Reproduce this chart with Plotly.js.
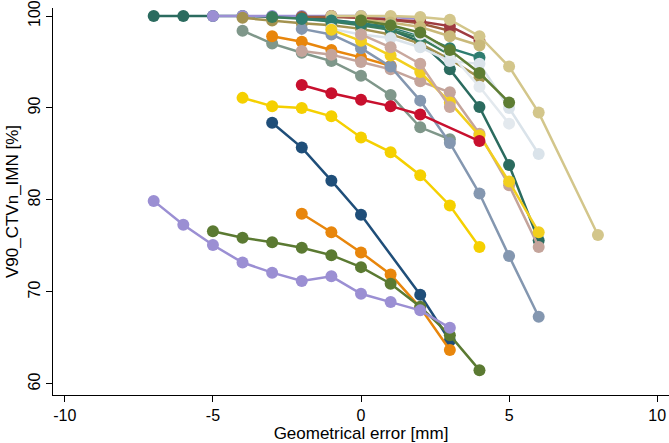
<!DOCTYPE html>
<html>
<head>
<meta charset="utf-8">
<script src="https://cdn.plot.ly/plotly-3.0.1.min.js"></script>
<style>
  html, body { margin: 0; padding: 0; background: #fff; }
  #chart { width: 669px; height: 443px; }
</style>
</head>
<body>
<div id="chart"></div>
<script>
// Geometrical error [mm] vs V90 of CTVn_IMN [%], one line per case

// upper cluster
const tealX = [-7, -6, -5, -4, -3, -2, -1, 0, 1, 2, 3, 4, 5, 6];
const tealY = [100, 100, 100, 100, 99.9, 99.8, 99.6, 99.2, 98.5, 97.2, 94.2, 90.1, 83.8, 75.6];

const lavTopX = [-5, -4, -3, -2, -1, 0, 1, 2];
const lavTopY = [100, 100, 100, 100, 100, 100, 99.9, 99.7];

const khakiOliveX = [-4, -3, -2, -1, 0, 1, 2, 3, 4];
const khakiOliveY = [99.8, 99.5, 99.2, 99.0, 98.6, 98.0, 97.0, 95.3, 93.3];

const sageX = [-4, -3, -2, -1, 0, 1, 2, 3];
const sageY = [98.4, 97.0, 96.0, 95.1, 93.5, 91.4, 87.9, 86.6];

const orangeTopX = [-3, -2, -1, 0, 1];
const orangeTopY = [97.8, 97.2, 96.3, 95.5, 94.6];

const tanPinkX = [-2, -1, 0, 1, 2, 3, 4, 5, 6];
const tanPinkY = [96.2, 95.8, 95.0, 94.2, 92.9, 91.7, 87.2, 81.6, 74.9];

const grayBlueX = [-2, -1, 0, 1, 2, 3, 4, 5, 6];
const grayBlueY = [98.6, 98.0, 96.5, 94.5, 90.8, 86.2, 80.7, 73.9, 67.3];

const brownX = [-2, -1, 0, 1, 2, 3];
const brownY = [99.9, 99.9, 99.8, 99.6, 99.2, 98.4];

const greenTealX = [-3, -2, -1, 0, 1, 2, 3];
const greenTealY = [99.9, 99.7, 99.4, 99.0, 98.5, 97.6, 95.8];

const maroonX = [-1, 0, 1, 2, 3, 4];
const maroonY = [100, 99.8, 99.6, 99.4, 98.9, 97.3];

const khakiX = [-1, 0, 1, 2, 3, 4, 5, 6, 8];
const khakiY = [100, 100, 100, 99.9, 99.6, 97.8, 94.5, 89.5, 76.2];

const khaki2X = [0, 1, 2, 3, 4];
const khaki2Y = [99.6, 99.3, 98.8, 97.8, 96.8];

const teal2X = [-2, -1, 0, 1, 2, 3, 4];
const teal2Y = [99.7, 99.5, 99.2, 98.8, 97.9, 96.5, 95.5];

const light1X = [-1, 0, 1, 2, 3, 4, 5, 6];
const light1Y = [98.6, 98.0, 97.6, 96.6, 95.1, 94.8, 90.0, 85.0];

const light2X = [1, 2, 3, 4, 5];
const light2Y = [99.0, 98.0, 96.0, 92.3, 88.3];

const oliveGreen2X = [0, 1, 2, 3, 4, 5];
const oliveGreen2Y = [99.5, 99.0, 98.2, 96.3, 93.8, 90.6];

const yellow2X = [-1, 0, 1, 2, 3, 4, 5, 6];
const yellow2Y = [98.5, 97.3, 95.7, 93.9, 90.6, 87.0, 82.0, 76.5];

const tanPink2X = [0, 1, 2, 3];
const tanPink2Y = [98.0, 96.6, 94.8, 90.1];

// lower lines
const crimsonX = [-2, -1, 0, 1, 2, 4];
const crimsonY = [92.5, 91.6, 90.9, 90.2, 89.3, 86.4];

const yellowX = [-4, -3, -2, -1, 0, 1, 2, 3, 4];
const yellowY = [91.1, 90.2, 90.0, 89.1, 86.8, 85.2, 82.7, 79.4, 74.9];

const navyX = [-3, -2, -1, 0, 2, 3];
const navyY = [88.4, 85.7, 82.1, 78.4, 69.7, 64.7];

const orangeX = [-2, -1, 0, 1, 2, 3];
const orangeY = [78.5, 76.5, 74.3, 71.9, 68.3, 63.7];

const oliveGreenX = [-5, -4, -3, -2, -1, 0, 1, 2, 3, 4];
const oliveGreenY = [76.6, 75.9, 75.4, 74.8, 74.0, 72.7, 70.9, 68.4, 65.3, 61.5];

const lavenderX = [-7, -6, -5, -4, -3, -2, -1, 0, 1, 2, 3];
const lavenderY = [79.9, 77.3, 75.1, 73.2, 72.1, 71.2, 71.7, 69.8, 68.9, 68.0, 66.1];

// axis ticks (plain hyphen like the original)
const xTicks = [-10, -5, 0, 5, 10];
const xTickText = ['-10', '-5', '0', '5', '10'];
const yTicks = [60, 70, 80, 90, 100];

const series = [
    [tealX, tealY, '#2b6b5f'],
    [lavTopX, lavTopY, '#9b8fd3'],
    [khakiOliveX, khakiOliveY, '#a3924f'],
    [sageX, sageY, '#7f978a'],
    [orangeTopX, orangeTopY, '#e8860c'],
    [tanPinkX, tanPinkY, '#c4a49b'],
    [grayBlueX, grayBlueY, '#8497b0'],
    [brownX, brownY, '#9c5b3a'],
    [greenTealX, greenTealY, '#3a7d5c'],
    [maroonX, maroonY, '#9e3b40'],
    [khakiX, khakiY, '#d3c68b'],
    [khaki2X, khaki2Y, '#c9b97a'],
    [teal2X, teal2Y, '#2e7d70'],
    [light1X, light1Y, '#dae3ea'],
    [light2X, light2Y, '#e3e9ee'],
    [oliveGreen2X, oliveGreen2Y, '#5e7d33'],
    [yellow2X, yellow2Y, '#f2cf1e'],
    [tanPink2X, tanPink2Y, '#c9a89e'],
    [crimsonX, crimsonY, '#c8102e'],
    [yellowX, yellowY, '#f5d000'],
    [navyX, navyY, '#1f4e79'],
    [orangeX, orangeY, '#e8860c'],
    [oliveGreenX, oliveGreenY, '#5b7a32'],
    [lavenderX, lavenderY, '#9b8fd3']
];

const data = series.map(s => ({
    x: s[0],
    y: s[1],
    type: 'scatter',
    mode: 'lines+markers',
    line: { color: s[2], width: 2.5 },
    marker: { color: s[2], size: 12 },
    showlegend: false,
    hoverinfo: 'x+y'
}));

const layout = {
    width: 669,
    height: 443,
    paper_bgcolor: '#fff',
    plot_bgcolor: '#fff',
    font: { family: 'Liberation Sans, Arial, sans-serif', color: '#000', size: 16 },
    margin: { l: 53, r: 0, t: 8, b: 48 },
    xaxis: {
        range: [-10.4, 10.4],
        tickvals: xTicks,
        ticktext: xTickText,
        ticks: 'outside',
        ticklen: 6,
        tickcolor: '#000',
        showline: true,
        linecolor: '#000',
        linewidth: 1,
        showgrid: false,
        zeroline: false,
        ticklabeloverflow: 'allow',
        tickfont: { size: 16 },
        title: { text: 'Geometrical error [mm]', font: { size: 17 }, standoff: 1 }
    },
    yaxis: {
        range: [58.8, 100.87],
        tickvals: yTicks,
        tickangle: -90,
        ticks: 'outside',
        ticklen: 6,
        tickcolor: '#000',
        showline: true,
        linecolor: '#000',
        linewidth: 1,
        showgrid: false,
        zeroline: false,
        ticklabeloverflow: 'allow',
        tickfont: { size: 16 },
        title: { text: 'V90_CTVn_IMN [%]', font: { size: 17 }, standoff: 2 }
    }
};

Plotly.newPlot('chart', data, layout, { displayModeBar: false, staticPlot: true });
</script>
</body>
</html>
